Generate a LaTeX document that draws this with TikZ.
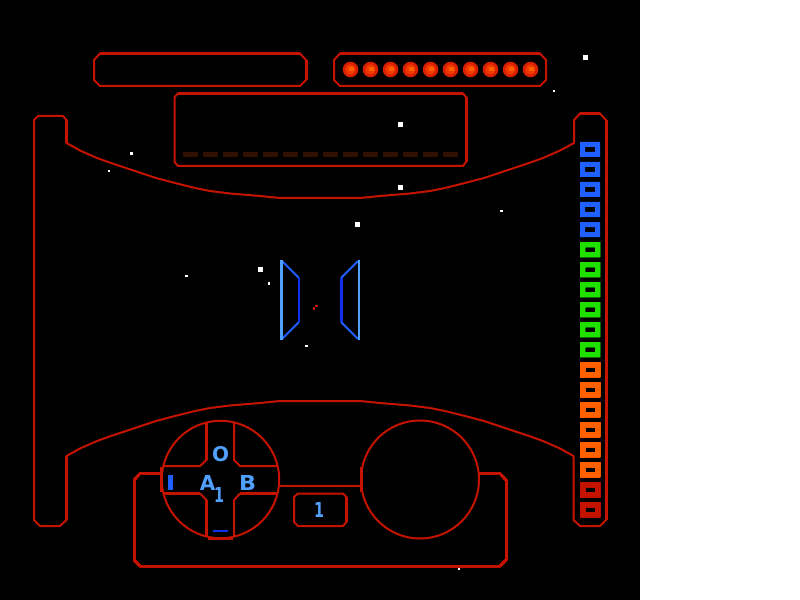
\documentclass[tikz,border=0pt]{standalone}
\usepackage{fontspec}
\usepackage{graphicx}
\setmainfont{DejaVu Sans}
\definecolor{hud}{HTML}{C41400}
\definecolor{dashc}{HTML}{301000}
\definecolor{blu}{HTML}{2060FF}
\definecolor{deep}{HTML}{1030F0}
\definecolor{lite}{HTML}{50A0FF}
\definecolor{grn}{HTML}{20E000}
\definecolor{org}{HTML}{FF6000}
\definecolor{leda}{HTML}{D82000}
\definecolor{ledb}{HTML}{F03800}
\definecolor{ledc}{HTML}{FF6000}
\tikzset{
  thin2/.style={draw=hud,line width=2bp,line join=round},
  thick3/.style={draw=hud,line width=3bp},
  star/.style={fill=white,draw=none},
  glyph/.style={text=lite,inner sep=0pt,font=\bfseries},
  cell/.style={even odd rule,draw=none}
}
\newcommand{\barcell}[2]{\fill[cell,fill=#1] (580,#2) rectangle (600,#2+15) (585,#2+5) rectangle (595,#2+10);}
\begin{document}
\begin{tikzpicture}[x=1bp,y=-1bp]
\useasboundingbox (0,0) rectangle (800,600);
\fill[white] (0,0) rectangle (800,600);
\fill[black] (0,0) rectangle (640,600);
% stars
\foreach \xa/\ya/\xb/\yb in {583/55/588/60,553/90/555/92,398/122/403/127,398/185/403/190,130/152/133/155,108/170/110/172,355/222/360/227,500/210/503/212,258/267/263/272,268/282/270/285,185/275/188/277,305/345/308/347,458/567/460/570}
  \fill[star] (\xa,\ya) rectangle (\xb,\yb);
% top pills
\foreach \dx in {0,240}{
  \draw[thin2] (100+\dx,53.5) -- (94+\dx,60) -- (94+\dx,80) -- (100+\dx,86) -- (300+\dx,86) -- (306+\dx,80) -- (306+\dx,60) -- (300+\dx,53.5) -- cycle;
  \draw[thick3] (100+\dx,53.5) -- (300+\dx,53.5);
}
\draw[thick3] (306,60) -- (306,80);
% LEDs
\foreach \i in {0,...,9}{
  \fill[leda] (350.5+\i*20,69.5) circle (7.8);
  \fill[ledb] (350.5+\i*20,69.5) circle (5.2);
  \fill[ledc] (349+\i*20,67) rectangle (354+\i*20,71);
}
% centre panel
\draw[thin2] (178,93.5) -- (463,93.5) -- (466,97) -- (466,162) -- (463,166) -- (178,166) -- (174.5,162) -- (174.5,97) -- cycle;
\draw[thick3] (178,93.5) -- (463,93.5);
\draw[thick3] (466,97) -- (466,162);
\foreach \i in {0,...,13}
  \fill[dashc] (183+\i*20,152) rectangle (198+\i*20,157);
% side frame with arcs
\draw[thin2] (66.5,143) -- (66.5,120) -- (63,116) -- (38,116) -- (34,120) -- (34,520) -- (40,526) -- (60,526) -- (66.5,520) -- (66.5,456)
  -- (80,448.5) -- (97,441) -- (111,436) -- (126,431) -- (141,426) -- (156,421) -- (175,416) -- (195,411) -- (210,408) -- (230,405.5) -- (260,403) -- (280,401) -- (360,401) -- (380,403) -- (410,405.5) -- (430,408) -- (445,411) -- (465,416) -- (484,421) -- (499,426) -- (514,431) -- (529,436) -- (543,441) -- (560,448.5) -- (573.5,456)
  -- (573.5,520) -- (580,526) -- (600,526) -- (606,520) -- (606,120) -- (600,113.5) -- (580,113.5) -- (574,120) -- (574,143)
  -- (560,150.5) -- (543,158) -- (529,163) -- (514,168) -- (499,173) -- (484,178) -- (465,183) -- (445,188) -- (430,191) -- (410,193.5) -- (380,196) -- (360,198) -- (280,198) -- (260,196) -- (230,193.5) -- (210,191) -- (195,188) -- (175,183) -- (156,178) -- (141,173) -- (126,168) -- (111,163) -- (97,158) -- (80,150.5) -- cycle;
\draw[thick3] (66.5,120) -- (66.5,143);
\draw[thick3] (66.5,456) -- (66.5,520);
\draw[thick3] (606,120) -- (606,520);
\draw[thick3] (580,113.5) -- (600,113.5);
% energy bar
\foreach \y in {142,162,182,202,222} \barcell{blu}{\y}
\foreach \y in {242,262,282,302,322,342} \barcell{grn}{\y}
\foreach \y in {362,382,402,422,442,462} \barcell{org}{\y}
\foreach \y in {482,502} \barcell{hud}{\y}
% console
\draw[thin2] (161,473.5) -- (140,473.5) -- (134,480) -- (134,560) -- (140,566) -- (500,566) -- (506,560) -- (506,480) -- (500,473.5) -- (479,473.5);
\draw[thick3] (140,473.5) -- (161,473.5);
\draw[thick3] (480,473.5) -- (500,473.5);
\draw[thick3] (506,480) -- (506,560);
\draw[thin2] (279,486) -- (361,486);
% circles
\fill[black] (220.5,479.5) circle (58.5);
\fill[black] (420,479.5) circle (59);
\draw[thin2] (220.5,479.5) circle (58.7);
\draw[thin2] (420,479.5) circle (59);
\draw[thick3] (161.5,467) -- (161.5,492);
\draw[thick3] (361,467) -- (361,492);
% cross
\draw[thin2] (163,466) -- (200,466) -- (206.5,460) -- (206.5,422);
\draw[thin2] (278,466) -- (240,466) -- (234,460) -- (234,422);
\draw[thick3] (163,493.5) -- (200,493.5);
\draw[thin2] (200,493.5) -- (206.5,500);
\draw[thick3] (240,493.5) -- (278,493.5);
\draw[thin2] (240,493.5) -- (234,500);
\draw[thick3] (206.5,500) -- (206.5,536);
\draw[thin2] (234,500) -- (234,536);
\draw[thick3] (206.5,422) -- (206.5,460);
\draw[thick3] (208,538) -- (233,538);
% small box
\draw[thin2] (298,493.5) -- (343,493.5) -- (346.5,497) -- (346.5,522) -- (343,526) -- (298,526) -- (294,522) -- (294,497) -- cycle;
\draw[thick3] (346.5,497) -- (346.5,522);
% indicators
\fill[blu] (168,475) rectangle (173,490);
\fill[deep] (213,530) rectangle (228,532);
% labels
\node[glyph] (lo) at (220.5,454.5) {\resizebox{17bp}{15bp}{O}};
\node[glyph] (la) at (207.5,482.5) {\resizebox{15.5bp}{15bp}{A}};
\node[glyph] (lb) at (247.5,482.5) {\resizebox{17bp}{15bp}{B}};
\node[glyph] (lone) at (219,494.5) {\resizebox{10bp}{15bp}{1}};
\node[glyph] (ltwo) at (319,509.5) {\resizebox{10bp}{15bp}{1}};
% fighter
\draw[blu,line width=1.8bp] (282,261) -- (299,278) (282,339) -- (299,322);
\draw[blu,line width=1.8bp] (358,261) -- (341,278) (358,339) -- (341,322);
\fill[lite] (280,260) rectangle (283,340);
\fill[lite] (358,260) rectangle (360,340);
\fill[deep] (298,278) rectangle (300,322);
\fill[deep] (340,278) rectangle (343,322);
\fill[hud] (315,305) rectangle (318,307);
\fill[hud] (313,307) rectangle (315,310);
\end{tikzpicture}
\end{document}
